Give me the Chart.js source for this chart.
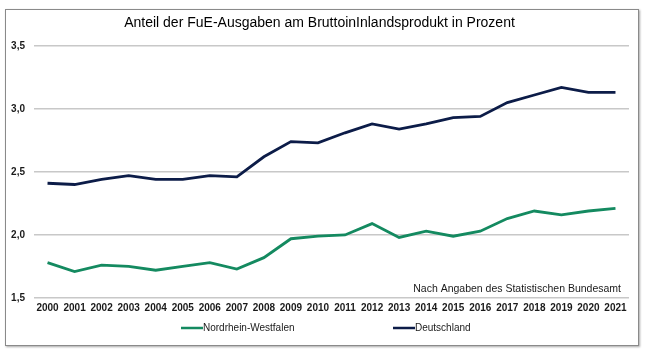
<!DOCTYPE html>
<html>
<head>
<meta charset="utf-8">
<script src="https://cdn.jsdelivr.net/npm/chart.js@4"></script>
<style>
    html, body { margin: 0; padding: 0; background: #ffffff; }
    #frame {
        position: absolute;
        left: 5px; top: 9px;
        width: 632px; height: 335px;
        border: 1px solid #8a8a8a;
        box-shadow: 1px 1px 2px rgba(0,0,0,0.35);
        background: #fff;
    }
    #chart { display: block; }
</style>
</head>
<body>
<div id="frame"><canvas id="chart" width="632" height="335"></canvas></div>
<script>
// Data
const years = ['2000', '2001', '2002', '2003', '2004', '2005', '2006', '2007', '2008', '2009', '2010',
    '2011', '2012', '2013', '2014', '2015', '2016', '2017', '2018', '2019', '2020', '2021'];
const nrw = [1.78, 1.71, 1.76, 1.75, 1.72, 1.75, 1.78, 1.73, 1.82, 1.97, 1.99,
    2.00, 2.09, 1.98, 2.03, 1.99, 2.03, 2.13, 2.19, 2.16, 2.19, 2.21];
const deutschland = [2.41, 2.40, 2.44, 2.47, 2.44, 2.44, 2.47, 2.46, 2.62, 2.74, 2.73,
    2.81, 2.88, 2.84, 2.88, 2.93, 2.94, 3.05, 3.11, 3.17, 3.13, 3.13];
const yTicks = [1.5, 2.0, 2.5, 3.0, 3.5];

const titleText = 'Anteil der FuE-Ausgaben am BruttoinInlandsprodukt in Prozent';
const sourceText = 'Nach Angaben des Statistischen Bundesamt';

const smallFont = '"Liberation Sans Narrow", "Liberation Sans", Arial, sans-serif';

// footnote + legend drawn under the axis
const extrasPlugin = {
    id: 'extras',
    afterDraw(chart) {
        const ctx = chart.ctx;
        const area = chart.chartArea;
        ctx.save();
        ctx.fillStyle = '#1a1a1a';
        ctx.font = '10.5px ' + smallFont;
        ctx.textAlign = 'right';
        ctx.textBaseline = 'bottom';
        ctx.fillText(sourceText, area.right - 8, area.bottom - 4);

        // legend
        const legendY = area.bottom + 30;
        const starts = [175, 387];
        chart.data.datasets.forEach((ds, i) => {
            const x = starts[i];
            ctx.strokeStyle = ds.borderColor;
            ctx.lineWidth = 2.5;
            ctx.beginPath();
            ctx.moveTo(x, legendY);
            ctx.lineTo(x + 22, legendY);
            ctx.stroke();
            ctx.fillStyle = '#1a1a1a';
            ctx.font = '10px ' + smallFont;
            ctx.textAlign = 'left';
            ctx.textBaseline = 'middle';
            ctx.fillText(ds.label, x + 22, legendY);
        });
        ctx.restore();
    }
};

const ctx = document.getElementById('chart').getContext('2d');
const chart = new Chart(ctx, {
    type: 'line',
    data: {
        labels: years,
        datasets: [
            {
                label: 'Nordrhein-Westfalen',
                data: nrw,
                borderColor: '#148a60',
                borderWidth: 2.8,
                pointRadius: 0,
                tension: 0,
                fill: false
            },
            {
                label: 'Deutschland',
                data: deutschland,
                borderColor: '#0c1c48',
                borderWidth: 2.8,
                pointRadius: 0,
                tension: 0,
                fill: false
            }
        ]
    },
    options: {
        responsive: false,
        animation: false,
        layout: {
            padding: { left: 4, right: 9, top: 0, bottom: 33 }
        },
        plugins: {
            legend: { display: false },
            tooltip: { enabled: false },
            title: {
                display: true,
                text: titleText,
                color: '#000',
                font: { family: '"Liberation Sans", Arial, sans-serif', size: 14, weight: 'normal' },
                padding: { top: 5, bottom: 14 }
            }
        },
        scales: {
            x: {
                offset: true,
                grid: { display: false, drawTicks: false },
                border: { display: false },
                afterFit: function(axis) {
                    axis.height = 14;
                },
                ticks: {
                    color: '#1a1a1a',
                    font: { family: smallFont, size: 10, weight: 'bold' },
                    maxRotation: 0,
                    autoSkip: false,
                    padding: 4
                }
            },
            y: {
                min: yTicks[0],
                max: yTicks[yTicks.length - 1],
                afterBuildTicks: function(axis) {
                    axis.ticks = yTicks.map(v => ({ value: v }));
                },
                afterFit: function(axis) {
                    axis.width = 24;
                },
                grid: {
                    color: '#c8c8c8',
                    lineWidth: 1.5,
                    drawTicks: false
                },
                border: { display: false },
                ticks: {
                    color: '#1a1a1a',
                    padding: 9,
                    font: { family: smallFont, size: 10, weight: 'bold' },
                    callback: function(value) {
                        return value.toFixed(1).replace('.', ',');
                    }
                }
            }
        }
    },
    plugins: [extrasPlugin]
});
</script>
</body>
</html>
